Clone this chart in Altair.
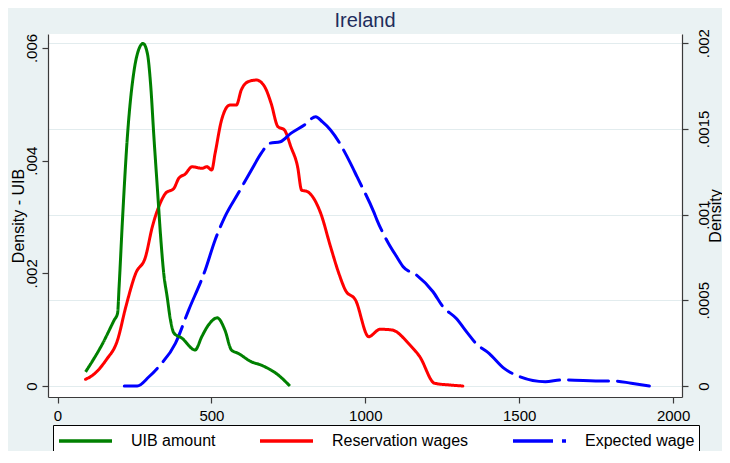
import altair as alt
import pandas as pd

# ---- data ----
series_names = ["UIB amount", "Reservation wages", "Expected wage"]

uib_x = [91, 147, 184, 195, 200, 211, 227, 249, 265, 278, 292, 303, 313, 324, 335, 345,
         356, 367, 378, 404, 447, 469, 490, 519, 544, 565, 587, 630, 662, 716, 755]
uib_y = [0.00025, 0.00076, 0.00117, 0.00129, 0.00176, 0.00295, 0.00443, 0.00561, 0.00599,
         0.00608, 0.00590, 0.00531, 0.00443, 0.00354, 0.00265, 0.00200, 0.00159, 0.00117,
         0.00094, 0.00085, 0.00064, 0.00088, 0.00108, 0.00121, 0.00099, 0.00064, 0.00058,
         0.00043, 0.00037, 0.00020, 0.0]

res_x = [91, 115, 158, 195, 222, 254, 286, 308, 329, 351, 378, 394, 415, 437, 469, 485, 501,
         512, 533, 560, 581, 597, 619, 646, 673, 694, 716, 737, 758, 780, 793, 812, 855, 887,
         914, 935, 968, 1011, 1048, 1086, 1145, 1177, 1225, 1273, 1317]
res_y = [0.000039, 0.000064, 0.000152, 0.000268, 0.000463, 0.000657, 0.000754, 0.000929,
         0.001046, 0.001124, 0.001153, 0.001212, 0.001237, 0.001279, 0.001270, 0.001279,
         0.001260, 0.001358, 0.001552, 0.001639, 0.001639, 0.001727, 0.001775, 0.001785,
         0.001746, 0.001649, 0.001513, 0.001494, 0.001396, 0.001279, 0.001143, 0.001134,
         0.001008, 0.000813, 0.000657, 0.000560, 0.000502, 0.000288, 0.000331, 0.000327,
         0.000239, 0.000171, 0.000016, 0.000006, 0.0]

exp_x = [217, 259, 297, 329, 383, 426, 480, 512, 544, 587, 630, 662, 689, 724, 758, 802, 839,
         860, 887, 952, 973, 1027, 1038, 1075, 1102, 1123, 1166, 1220, 1252, 1295, 1333, 1359,
         1402, 1451, 1477, 1585, 1638, 1778, 1810, 1864, 1923]
exp_y = [0.0, 0.0, 0.000054, 0.000113, 0.000249, 0.000443, 0.000677, 0.000852, 0.000988,
         0.001124, 0.001260, 0.001358, 0.001416, 0.001425, 0.001474, 0.001523, 0.001571,
         0.001542, 0.001494, 0.001299, 0.001221, 0.001017, 0.000968, 0.000833, 0.000754,
         0.000696, 0.000648, 0.000550, 0.000463, 0.000395, 0.000307, 0.000249, 0.000191,
         0.000103, 0.000074, 0.000025, 0.000035, 0.000029, 0.000029, 0.000016, 0.0]

x_ticks = [0, 500, 1000, 1500, 2000]
left_ticks = [0, 0.002, 0.004, 0.006]
right_ticks = [0, 0.0005, 0.001, 0.0015, 0.002]

df_left = pd.DataFrame({"wage": uib_x, "dens_uib": uib_y, "series": series_names[0]})
df_right = pd.concat([
    pd.DataFrame({"wage": res_x, "dens": res_y, "series": series_names[1]}),
    pd.DataFrame({"wage": exp_x, "dens": exp_y, "series": series_names[2]}),
], ignore_index=True)

FONT = "Liberation Sans"
AXC = "#3a3a3a"
PLOT_W, PLOT_H = 634, 363

legend = alt.Legend(
    orient="none", legendX=5, legendY=391, direction="horizontal", columns=3,
    title=None, strokeColor="black", fillColor="white", padding=4, cornerRadius=0,
    symbolType="M-1,0H4.3", symbolSize=400, symbolStrokeWidth=3.5,
    labelFontSize=16, labelFont=FONT, labelColor="black", labelOffset=50,
    columnPadding=37, labelLimit=400,
)

color = alt.Color("series:N", scale=alt.Scale(domain=series_names,
                  range=["#008000", "#ff0000", "#0000ff"]), legend=legend)
dash = alt.StrokeDash("series:N", scale=alt.Scale(domain=series_names,
                      range=[[1, 0], [1, 0], [40, 9]]), legend=legend)

x_enc = alt.X("wage:Q", scale=alt.Scale(domain=[-31, 2029], nice=False, zero=False),
              axis=alt.Axis(values=x_ticks, format="d", title=None, grid=False,
                            labelFontSize=15, labelColor="black", labelFlush=False,
                            labelPadding=5, tickSize=6, domainColor=AXC, tickColor=AXC,
                            domainWidth=1.2, tickWidth=1.2))

left = alt.Chart(df_left).mark_line(strokeWidth=3, interpolate="monotone").encode(
    x=x_enc,
    y=alt.Y("dens_uib:Q", scale=alt.Scale(domain=[-0.000195, 0.006248], nice=False, zero=False),
            axis=alt.Axis(orient="left", values=left_ticks, grid=False,
                          labelExpr="datum.value == 0 ? '0' : substring(format(datum.value, '.3~f'), 1)",
                          labelAngle=270, labelAlign="center", labelBaseline="bottom",
                          labelPadding=3, labelFontSize=15, labelColor="black", labelFlush=False,
                          tickSize=6, domainColor=AXC, tickColor=AXC, domainWidth=1.2, tickWidth=1.2,
                          title="Density - UIB", titleAngle=270, titleX=-30, titleY=PLOT_H / 2,
                          titleAlign="center", titleBaseline="middle", titleFontSize=16,
                          titleFontWeight="normal", titleColor="black")),
    color=color,
    strokeDash=dash,
)

right = alt.Chart(df_right).mark_line(strokeWidth=3, interpolate="monotone", strokeCap="round").encode(
    x=x_enc,
    y=alt.Y("dens:Q", scale=alt.Scale(domain=[-0.0000642, 0.0020536], nice=False, zero=False),
            axis=alt.Axis(orient="right", values=right_ticks, grid=True, gridColor="#e2ecee",
                          gridWidth=1,
                          labelExpr="datum.value == 0 ? '0' : substring(format(datum.value, '.4~f'), 1)",
                          labelAngle=270, labelAlign="center", labelBaseline="top",
                          labelPadding=8, labelFontSize=15, labelColor="black", labelFlush=False,
                          tickSize=6, domainColor=AXC, tickColor=AXC, domainWidth=1.2, tickWidth=1.2,
                          title="Density", titleAngle=270, titleX=33, titleY=PLOT_H / 2,
                          titleAlign="center", titleBaseline="middle", titleFontSize=16,
                          titleFontWeight="normal", titleColor="black")),
    color=color,
    strokeDash=dash,
)

chart = alt.layer(right, left).resolve_scale(y="independent").properties(
    width=PLOT_W, height=PLOT_H,
    title=alt.Title("Ireland", fontSize=20, font=FONT, fontWeight="normal", color="#1f2d5c",
                    anchor="middle", offset=7, baseline="alphabetic", frame="group", dy=25),
    autosize=alt.AutoSizeParams(type="none"),
    padding={"left": 40, "top": 26, "right": 40, "bottom": 54},
    background="#eaf2f3",
).configure(font=FONT).configure_view(fill="white", strokeWidth=0)

chart.save("out.html", embed_options={"renderer": "svg", "actions": False})
